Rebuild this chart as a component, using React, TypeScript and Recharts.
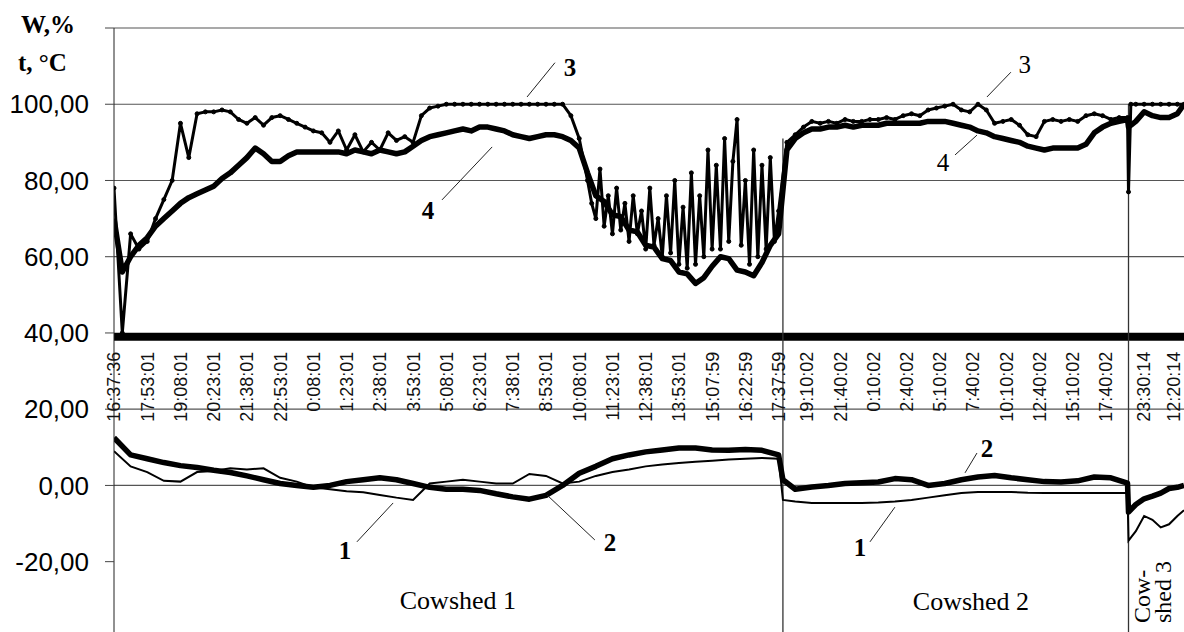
import { LineChart, Line, XAxis, YAxis, ReferenceLine, ReferenceDot } from 'recharts'

// x runs in "label steps": one unit = distance between two time labels
const tickPos = [
  0, 1, 2, 3, 4, 5, 6, 7, 8, 9, 10, 11, 12, 13, 14, 15, 16, 17, 18, 19, 20,
  20.85, 21.85, 22.85, 23.85, 24.85, 25.85, 26.85, 27.85, 28.85, 29.85,
  30.98, 31.9,
]
const tickLabels = [
  '16:37:36', '17:53:01', '19:08:01', '20:23:01', '21:38:01', '22:53:01', '0:08:01', '1:23:01',
  '2:38:01', '3:53:01', '5:08:01', '6:23:01', '7:38:01', '8:53:01', '10:08:01', '11:23:01',
  '12:38:01', '13:53:01', '15:07:59', '16:22:59', '17:37:59',
  '19:10:02', '21:40:02', '0:10:02', '2:40:02', '5:10:02', '7:40:02', '10:10:02', '12:40:02',
  '15:10:02', '17:40:02',
  '23:30:14', '12:20:14',
]
const yTicks = [-20, 0, 20, 40, 60, 80, 100, 120]
const gridValues = [120, 100, 80, 60, 20, 0]
const borders = [
  { u: 20.13, top: 91 },
  { u: 30.53, top: 100 },
]

// humidity W,% — cowshed 1, every quarter label step from 0 to 14
const w3Cowshed1 = [
  78, 40, 66, 62, 64, 70, 75, 80, 95, 86, 97.5, 98, 98, 98.5, 98, 96, 95, 96.5, 94.5, 96.5,
  97, 96, 95, 94, 93, 92.5, 90, 93, 88, 92, 87.5, 90, 88, 92.5, 90.5, 91.5, 90, 97, 99, 99.5,
  100, 100, 100, 100, 100, 100, 100, 100, 100, 100, 100, 100, 100, 100, 100,
  97, 91,
]
// the noisy end of cowshed 1, every eighth step from 14.25 to 20
const w3Cowshed1Noisy = [
  80, 74, 70, 83, 68, 76, 66, 78, 67, 74, 64, 76, 66, 72, 62, 78, 63, 70, 60, 76,
  61, 80, 58, 73, 57, 82, 58, 76, 60, 88, 62, 84, 62, 91, 64, 85, 96, 63, 80, 58,
  88, 60, 84, 62, 86, 64, 72,
]
const w4Cowshed1 = [
  70, 56, 60, 63, 65, 68, 70, 72, 74, 75.5, 76.5, 77.5, 78.5, 80.5, 82, 84, 86, 88.5, 87, 85,
  85, 86.5, 87.5, 87.5, 87.5, 87.5, 87.5, 87.5, 87, 88, 87.5, 87, 88, 87.5, 87, 87.5, 89, 90.5, 91.5, 92,
  92.5, 93, 93.5, 93, 94, 94, 93.5, 93, 92, 91.5, 91, 91.5, 92, 92, 91.5,
  90.5, 88.5, 82, 76, 74.5, 71, 70.5, 67, 66.5, 63, 62.5, 59.5, 59, 56, 55.5, 53, 54.5, 57.5, 60, 59.5,
  56.5, 56, 55, 58.5, 63, 66,
]
// cowshed 2, every quarter step from 20.25 to 30.5
const w3Cowshed2 = [
  90, 92, 94, 95.5, 95, 95.5, 95, 96, 95.5, 95.5, 96, 96, 96.5, 96, 97, 97.5, 97, 98.5, 99, 99.5,
  100, 98.5, 98, 100, 98.5, 95, 95.5, 96, 94.5, 92, 91.5, 95.5, 96, 95.5, 96, 95.5, 97, 97.5, 97, 96,
  96.5, 96.5,
]
const w4Cowshed2 = [
  88, 91, 92.5, 93.5, 93.5, 94, 94, 94.5, 94, 94.5, 94.5, 94.5, 95, 95, 95, 95, 95, 95.5, 95.5, 95.5,
  95, 94.5, 94, 93, 92.5, 91.5, 91, 90.5, 90, 89, 88.5, 88, 88.5, 88.5, 88.5, 88.5, 89.5, 92.5, 94, 95,
  95.5, 96,
]
const uCowshed3 = [30.53, 30.6, 30.75, 31, 31.25, 31.5, 31.75, 32, 32.2]
const w3Cowshed3 = [77, 100, 100, 100, 100, 100, 100, 100, 100]
const w4Cowshed3 = [94, 94.5, 95.5, 98, 97, 96.5, 96.5, 97.5, 100]

// temperature t,°C — cowshed 1, every half label step from 0 to 20
const t1Cowshed1 = [
  9, 5, 3.5, 1.2, 1, 3.5, 3.8, 4.5, 4.2, 4.5, 2, 1, -0.5, -1, -1.5, -1.8, -2.5, -3.2, -3.8, 0.5,
  1, 1.5, 1, 0.5, 0.5, 3, 2.5, 0.5, 1, 2.5, 3.5, 4.2, 5, 5.5, 5.9, 6.2, 6.5, 6.8, 7, 7.2, 7,
]
const t2Cowshed1 = [
  12.5, 8, 7, 6, 5.2, 4.7, 4, 3.4, 2.5, 1.5, 0.5, 0, -0.5, 0, 1, 1.5, 2, 1.5, 0.5, -0.5,
  -1, -1, -1.3, -2.2, -3, -3.6, -2.6, 0, 3.2, 5, 7, 8, 8.8, 9.3, 9.8, 9.8, 9.3, 9.2, 9.4, 9.2, 8,
]
const uTempCowshed2 = [
  20.13, 20.5, 21, 21.5, 22, 22.5, 23, 23.5, 24, 24.5, 25, 25.5, 26, 26.5, 27, 27.5, 28, 28.5, 29, 29.5, 30, 30.5,
]
const t1Cowshed2 = [
  -3.8, -4.2, -4.6, -4.6, -4.6, -4.6, -4.5, -4.2, -3.8, -3.2, -2.6, -2, -1.7, -1.7, -1.7, -1.9, -2, -2, -2, -2, -2, -2,
]
const t2Cowshed2 = [
  1.5, -1, -0.4, 0, 0.5, 0.7, 0.9, 1.8, 1.5, 0, 0.5, 1.5, 2.2, 2.6, 2, 1.5, 1, 0.9, 1.2, 2.2, 2, 0.6,
]
const uTempCowshed3 = [30.53, 30.75, 31, 31.25, 31.5, 31.75, 32, 32.2]
const t1Cowshed3 = [-14.5, -12, -8, -9, -11, -10.2, -8, -6.5]
const t2Cowshed3 = [-7, -5, -3.5, -2.8, -2, -0.8, -0.5, 0]

const callouts = [
  { text: '3', u: 13.72, v: 109.7, from: [13.27, 110.9], to: [12.43, 101.9], bold: true },
  { text: '4', u: 9.45, v: 72.2, from: [9.87, 74.9], to: [11.38, 88.8], bold: true },
  { text: '1', u: 6.95, v: -17, from: [7.31, -14.8], to: [8.4, -4.6], bold: true },
  { text: '2', u: 14.93, v: -15.1, from: [14.47, -14.3], to: [13.03, -2.5], bold: true },
  { text: '3', u: 27.41, v: 110.3, from: [26.99, 108.4], to: [26.27, 101.9], bold: false },
  { text: '4', u: 24.95, v: 84.8, from: [25.31, 86.7], to: [25.97, 91.9], bold: false },
  { text: '2', u: 26.27, v: 9.8, from: [25.97, 8.5], to: [25.61, 3.3], bold: true },
  { text: '1', u: 22.45, v: -16.2, from: [22.75, -14.8], to: [23.5, -5.7], bold: true },
]
const sections = [
  { text: 'Cowshed 1', u: 10.35, v: -32.4 },
  { text: 'Cowshed 2', u: 25.79, v: -32.7 },
]
const section3 = [
  { text: 'Cow-', u: 31.18, v: -36.1 },
  { text: 'shed 3', u: 31.81, v: -36.1 },
]

const rows = (us: number[], vs: number[]) => vs.map((v, i) => ({ u: us[i], v }))
const steps = (start: number, step: number, n: number) => Array.from({ length: n }, (_, i) => start + i * step)

const w3 = [
  ...rows(steps(0, 0.25, w3Cowshed1.length), w3Cowshed1),
  ...rows(steps(14.25, 0.125, w3Cowshed1Noisy.length), w3Cowshed1Noisy),
  ...rows(steps(20.25, 0.25, w3Cowshed2.length), w3Cowshed2),
  ...rows(uCowshed3, w3Cowshed3),
]
const w4 = [
  ...rows(steps(0, 0.25, w4Cowshed1.length), w4Cowshed1),
  ...rows(steps(20.25, 0.25, w4Cowshed2.length), w4Cowshed2),
  ...rows(uCowshed3, w4Cowshed3),
]
const t1 = [
  ...rows(steps(0, 0.5, t1Cowshed1.length), t1Cowshed1),
  ...rows(uTempCowshed2, t1Cowshed2),
  ...rows(uTempCowshed3, t1Cowshed3),
]
const t2 = [
  ...rows(steps(0, 0.5, t2Cowshed1.length), t2Cowshed1),
  ...rows(uTempCowshed2, t2Cowshed2),
  ...rows(uTempCowshed3, t2Cowshed3),
]

const sans = '"Liberation Sans", Arial, sans-serif'
const serif = '"Liberation Serif", "Times New Roman", serif'

export default function App() {
  return (
    <div style={{ position: 'absolute', left: 0, top: 0, width: 1184, height: 632, background: '#fff' }}>
      <LineChart width={1184} height={632} margin={{ top: 28, right: 0, bottom: 0, left: 0 }}>
        <XAxis type="number" dataKey="u" domain={[0, 32.2]} hide allowDataOverflow />
        <YAxis
          type="number"
          domain={[-38.45, 120]}
          ticks={yTicks}
          interval={0}
          allowDataOverflow
          width={114}
          tickSize={9}
          tickMargin={16}
          axisLine={{ stroke: '#222' }}
          tickLine={{ stroke: '#444' }}
          tick={{ fontSize: 26, fill: '#000', fontFamily: sans }}
          tickFormatter={(v: number) => (v === 120 ? '' : v.toFixed(2).replace('.', ','))}
        />
        {gridValues.map(v => (
          <ReferenceLine key={v} y={v} stroke="#555" strokeWidth={1.2} />
        ))}
        <ReferenceLine y={39} stroke="#000" strokeWidth={8} />
        {borders.map(b => (
          <ReferenceLine
            key={b.u}
            segment={[{ x: b.u, y: -38.45 }, { x: b.u, y: b.top }]}
            stroke="#333"
            strokeWidth={1.3}
          />
        ))}
        {tickPos.map((p, i) => (
          <ReferenceDot
            key={'t' + i}
            x={p}
            y={39}
            r={0}
            shape={(props: any) => (
              <text
                x={props.cx}
                y={props.cy + 15}
                transform={`rotate(-90 ${props.cx} ${props.cy + 15})`}
                textAnchor="end"
                dy="0.36em"
                fontSize={18}
                fontFamily={sans}
                fill="#111"
              >
                {tickLabels[i]}
              </text>
            )}
          />
        ))}
        <Line data={t1} dataKey="v" type="linear" stroke="#000" strokeWidth={2} dot={false} isAnimationActive={false} />
        <Line data={t2} dataKey="v" type="linear" stroke="#000" strokeWidth={5.5} strokeLinejoin="round" dot={false} isAnimationActive={false} />
        <Line data={w4} dataKey="v" type="linear" stroke="#000" strokeWidth={5.5} strokeLinejoin="round" dot={false} isAnimationActive={false} />
        <Line
          data={w3}
          dataKey="v"
          type="linear"
          stroke="#000"
          strokeWidth={3}
          strokeLinejoin="round"
          dot={{ r: 2, fill: '#000', stroke: '#000', strokeWidth: 1 }}
          isAnimationActive={false}
        />
        {callouts.map((c, i) => (
          <ReferenceLine
            key={'l' + i}
            segment={[{ x: c.from[0], y: c.from[1] }, { x: c.to[0], y: c.to[1] }]}
            stroke="#222"
            strokeWidth={1}
          />
        ))}
        {callouts.map((c, i) => (
          <ReferenceDot
            key={'c' + i}
            x={c.u}
            y={c.v}
            r={0}
            shape={(props: any) => (
              <text
                x={props.cx}
                y={props.cy}
                textAnchor="middle"
                dominantBaseline="central"
                fontSize={25}
                fontWeight={c.bold ? 'bold' : 'normal'}
                fontFamily={serif}
                fill="#000"
              >
                {c.text}
              </text>
            )}
          />
        ))}
        {sections.map((s, i) => (
          <ReferenceDot
            key={'s' + i}
            x={s.u}
            y={s.v}
            r={0}
            shape={(props: any) => (
              <text x={props.cx} y={props.cy} textAnchor="middle" fontSize={26} fontFamily={serif} fill="#000">
                {s.text}
              </text>
            )}
          />
        ))}
        {section3.map((s, i) => (
          <ReferenceDot
            key={'s3' + i}
            x={s.u}
            y={s.v}
            r={0}
            shape={(props: any) => (
              <text
                x={props.cx}
                y={props.cy}
                transform={`rotate(-90 ${props.cx} ${props.cy})`}
                textAnchor="start"
                fontSize={24}
                fontFamily={serif}
                fill="#000"
              >
                {s.text}
              </text>
            )}
          />
        ))}
      </LineChart>
      <svg width={120} height={80} style={{ position: 'absolute', left: 0, top: 0, pointerEvents: 'none' }}>
        <text x={21} y={33} fontSize={25} fontWeight="bold" fontFamily={serif}>W,%</text>
        <text x={18} y={71} fontSize={25} fontWeight="bold" fontFamily={serif}>t, °C</text>
      </svg>
    </div>
  )
}
